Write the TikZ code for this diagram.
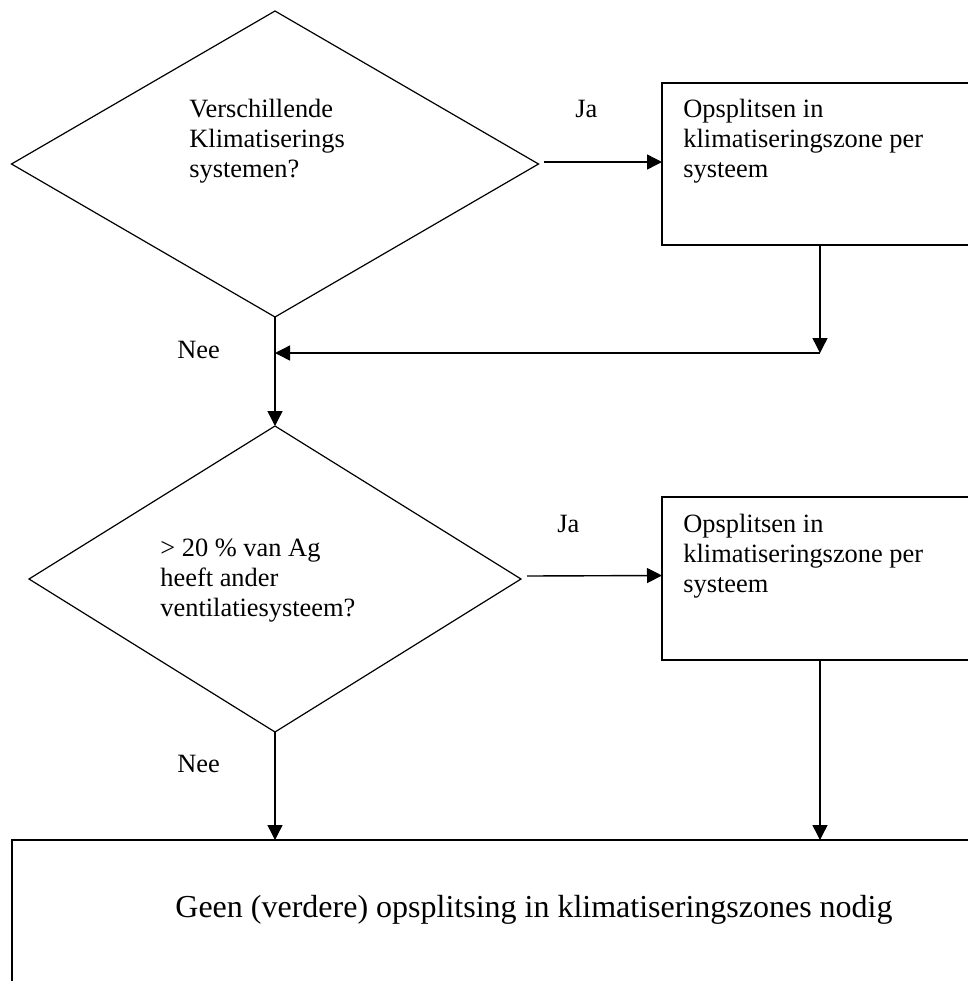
\documentclass[tikz,border=0pt]{standalone}
\usepackage{fontspec}
\setmainfont{Liberation Serif}
\usetikzlibrary{shapes.geometric,arrows.meta}

\begin{document}
\begin{tikzpicture}[%
    x=0.5pt, y=-0.5pt,          % Work in pixels of the page, y going down
    >={Triangle[length=7.5pt,width=7.5pt]}, % Filled arrow heads
    every node/.style={font=\fontsize{13.2}{15}\selectfont},
    ]
% -------------------------------------------------
% A few box styles
\tikzset{
  base/.style={draw, line width=0.6pt, inner sep=0pt, outer sep=0pt},
  test/.style={base, diamond, minimum height=153pt},
  proc/.style={base, rectangle, line width=0.8pt, anchor=north west},
  % Connector line style
  norm/.style={->, draw, line width=0.7pt},
  % Texts sit on the baseline of their last line
  txt/.style={anchor=base west, align=left, inner sep=0pt}
}
\useasboundingbox (0,0) rectangle (968,981);
\clip (0,0) rectangle (968,981);
% -------------------------------------------------
% Start by placing the nodes
\node [test, minimum width=263.5pt] (q1) at (275,164) {};
\node [test, minimum width=246pt] (q2) at (275,579) {};
\node [proc, minimum width=158pt, minimum height=81pt] (s1) at (662,83) {};
\node [proc, minimum width=158pt, minimum height=81.5pt] (s2) at (662,497) {};
\node [proc, minimum width=490pt, minimum height=100pt] (g) at (12,840) {};
% Texts in and beside the boxes
\node [txt] (q1t) at (189,177) {Verschillende\\Klimatiserings\\systemen?};
\node [txt] (q2t) at (160,616) {> 20 \% van Ag\\heeft ander\\ventilatiesysteem?};
\node [txt] (s1t) at (683,177) {Opsplitsen in\\klimatiseringszone per\\systeem};
\node [txt] (s2t) at (683,592) {Opsplitsen in\\klimatiseringszone per\\systeem};
\node [txt] (ja1) at (575,117) {Ja};
\node [txt] (ja2) at (557,532) {Ja};
\node [txt] (nee1) at (177,358) {Nee};
\node [txt] (nee2) at (177,772) {Nee};
\node [txt, font=\fontsize{16}{19}\selectfont] (gt) at (175,917)
  {Geen (verdere) opsplitsing in klimatiseringszones nodig};
% -------------------------------------------------
% Then the connectors
\coordinate (m1) at (s1.south |- 0,353);
\coordinate (j1) at (q1.south |- m1);
\draw [norm] ([shift={(5,-2)}]q1.east) -- ([yshift=1pt]s1.west);
\draw [norm] (s1.south) -- (m1);
\draw [norm] (m1) -- (j1);
\draw [norm] (q1.south) -- (q2.north);
\draw [norm] ([shift={(6,-3)}]q2.east) -- ([yshift=1.5pt]s2.west);
\draw [norm] (q2.south) -- (q2.south |- g.north);
\draw [norm] (s2.south) -- (s2.south |- g.north);
% -------------------------------------------------
\end{tikzpicture}
\end{document}
